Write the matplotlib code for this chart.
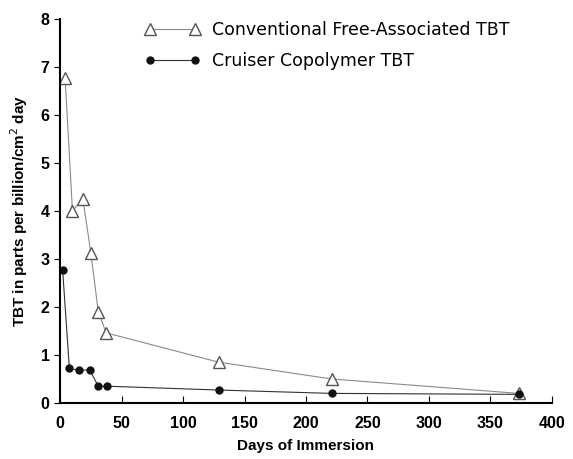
import numpy as np
import matplotlib.pyplot as plt

plt.rcParams['font.family'] = ['Liberation Sans', 'DejaVu Sans']

# days of immersion / TBT release rate
conv_days = [4, 10, 18.5, 25, 31, 37.5, 129, 221, 373]
conv_tbt = [6.77, 4.0, 4.25, 3.12, 1.9, 1.46, 0.85, 0.5, 0.2]
cru_days = [2, 7.5, 15.5, 24, 31, 38, 129, 221, 373]
cru_tbt = [2.77, 0.72, 0.68, 0.69, 0.35, 0.35, 0.27, 0.2, 0.18]

xticks = [0, 50, 100, 150, 200, 250, 300, 350, 400]
yticks = [0, 1, 2, 3, 4, 5, 6, 7, 8]

fig = plt.figure(figsize=(5.73, 4.59), dpi=100)
ax = fig.add_axes([0.105, 0.122, 0.858, 0.837])

ax.plot(conv_days, conv_tbt, color="#8a8a8a", lw=0.8, marker="^", ms=9,
        mfc="white", mec="#555555", mew=1.0,
        label="Conventional Free-Associated TBT")
ax.plot(cru_days, cru_tbt, color="#333333", lw=0.8, marker="o", ms=5,
        mfc="#111111", mec="#111111",
        label="Cruiser Copolymer TBT")

ax.set_xlim(0, 400)
ax.set_ylim(0, 8)
ax.set_xticks(xticks)
ax.set_yticks(yticks)
ax.spines['top'].set_visible(False)
ax.spines['right'].set_visible(False)
ax.spines['left'].set_linewidth(1.5)
ax.spines['bottom'].set_linewidth(1.5)
ax.tick_params(axis='x', direction='in', length=5, labelsize=11.5, pad=9)
ax.tick_params(axis='y', direction='out', length=4, labelsize=11.5)
for lab in ax.get_xticklabels() + ax.get_yticklabels():
    lab.set_fontweight('bold')

ax.set_xlabel("Days of Immersion", fontsize=11, fontweight='bold', labelpad=6)
ax.set_ylabel("TBT in parts per billion/cm$^2$ day", fontsize=11,
              fontweight='bold', labelpad=8)

leg = ax.legend(loc='upper left', bbox_to_anchor=(0.14, 1.035), frameon=False,
                numpoints=2, prop={'family': 'DejaVu Sans', 'size': 12.5},
                handlelength=3.2, handletextpad=0.7, labelspacing=0.75)

fig.savefig("out.png", dpi=100)
